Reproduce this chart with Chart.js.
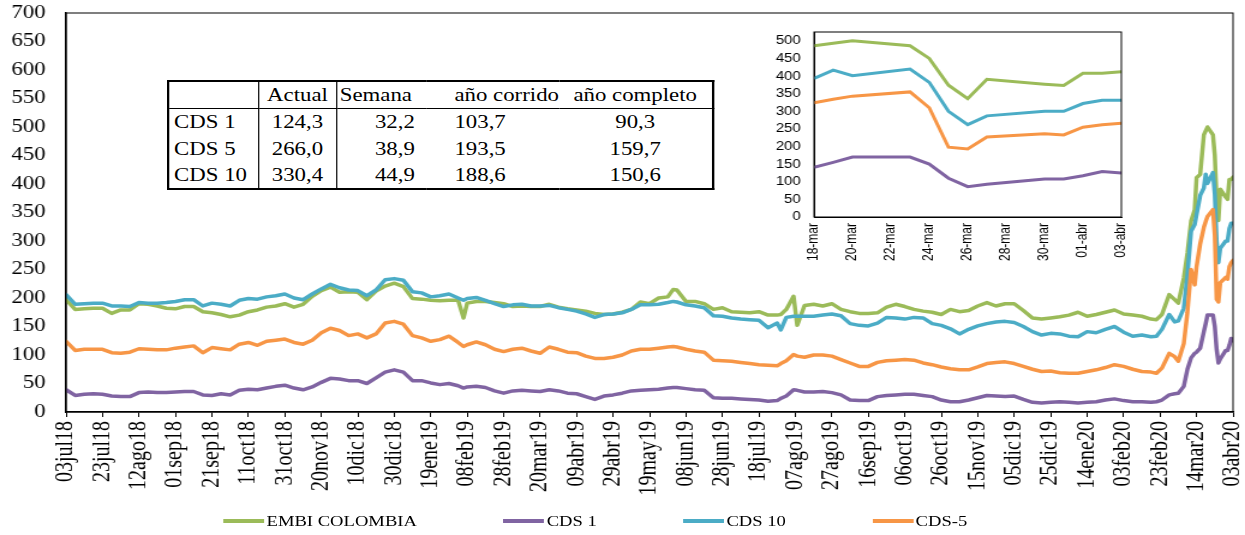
<!DOCTYPE html>
<html>
<head>
<meta charset="utf-8">
<script src="https://cdn.jsdelivr.net/npm/chart.js@4.4.1/dist/chart.umd.min.js"></script>
<style>
  html, body { margin: 0; padding: 0; background: #fff; overflow: hidden; }
  /* the whole figure is laid out narrow and widened, like the exported picture */
  #wrap { position: absolute; left: 0; top: 0; width: 1037px; height: 535px; transform: scaleX(1.2006); transform-origin: 0 0; }
  #main { position: absolute; left: 0; top: 0; }
  #inset { position: absolute; left: 633px; top: 25px; }
  #resumen { position: absolute; left: 139px; top: 80px; border-collapse: collapse; border: 2px solid #000;
             font-family: 'Liberation Serif', 'Times New Roman', serif; font-size: 19px; color: #000; background: #fff; }
  #resumen td { box-sizing: border-box; padding: 0; height: 27px; white-space: nowrap; line-height: 20px; }
  #resumen tr:first-child td { height: 27px; border-bottom: 1px solid #000; }
  #resumen td.c1 { width: 75px; text-align: left; padding-left: 4px; border-right: 1px solid #000; }
  #resumen td.c2 { width: 65.5px; text-align: center; border-right: 1px solid #000; }
  #resumen td.c3 { width: 74px; text-align: right; padding-right: 9px; }
  #resumen tr:first-child td.c3 { text-align: left; padding-left: 2px; padding-right: 0; }
  #resumen td.c4 { width: 109px; text-align: left; padding-left: 24px; }
  #resumen td.c5 { width: 128px; text-align: center; }
  #legend { position: absolute; left: 186px; top: 512px; display: flex; align-items: center;
            font-family: 'Liberation Serif', 'Times New Roman', serif; font-size: 15.5px; line-height: 18px; color: #000; }
  #legend .item { display: flex; align-items: center; margin-right: 72px; }
  #legend .swatch { display: inline-block; width: 34px; height: 4px; margin-right: 2px; }
</style>
</head>
<body>
<div id="wrap">
  <canvas id="main" width="1037" height="535"></canvas>
  <table id="resumen"></table>
  <canvas id="inset" width="308" height="245"></canvas>
  <div id="legend"></div>
</div>
<script>
// days counted from 03jul18
const days = [0,5,10,15,20,25,30,35,40,45,
  50,55,60,65,70,75,80,85,90,95,
  100,105,110,115,120,125,130,135,140,145,
  150,155,160,165,170,175,180,185,190,195,
  200,205,210,215,218,220,225,230,235,240,
  245,250,255,260,265,270,275,280,285,290,
  295,300,305,310,315,320,325,330,333,335,
  340,345,350,355,360,365,370,375,380,385,
  390,392,395,399,401,405,410,415,420,425,
  430,435,440,445,450,455,460,465,470,475,
  480,485,490,495,500,505,510,515,520,525,
  530,535,540,545,550,555,560,565,570,575,
  580,585,590,595,598,601,605,608,610,613,
  615,617,619,620,622,624,625,626,629,630,
  631,632,633,636,637,638,639,640];

const embi = [197,180,181,182,182,173,179,179,190,189,
  186,182,181,185,185,176,174,171,167,170,
  176,179,184,186,190,184,189,203,213,219,
  210,211,210,197,212,221,226,220,199,198,
  196,195,196,196,165,191,194,194,192,190,
  185,186,185,185,189,184,181,179,177,173,
  171,172,175,180,193,190,200,202,215,214,
  194,194,190,180,183,176,175,174,176,170,
  170,171,180,203,152,187,189,186,190,180,
  176,173,173,174,184,189,185,180,177,175,
  171,180,176,178,186,192,186,190,190,178,
  165,163,165,167,170,175,168,171,175,179,
  172,170,168,163,162,171,206,197,191,235,
  279,335,355,411,417,486,493,500,486,450,
  374,336,391,377,373,408,408,412];

const cds1 = [39,29,31,32,31,28,27,27,34,35,
  34,34,35,36,36,30,29,32,30,38,
  40,39,42,45,47,42,39,44,52,59,
  58,55,55,50,60,70,74,70,55,55,
  51,48,50,46,42,44,45,43,37,33,
  37,38,37,36,39,37,33,32,27,22,
  28,30,33,37,38,39,40,42,43,43,
  41,39,38,25,24,24,23,22,21,19,
  20,24,28,39,38,35,35,36,34,30,
  21,20,20,27,29,30,31,31,29,27,
  21,18,18,21,25,29,28,27,28,22,
  17,16,17,18,17,16,17,18,21,23,
  20,18,18,17,18,21,30,32,33,45,
  75,95,103,105,112,141,155,170,170,150,
  110,86,93,108,108,117,129,125];

const cds10 = [206,189,190,191,191,186,186,185,192,191,
  191,192,194,197,197,186,191,189,186,196,
  199,198,202,204,207,200,197,207,216,224,
  218,214,213,204,214,232,234,231,211,209,
  202,204,207,200,196,199,201,196,190,185,
  188,189,186,186,187,183,180,177,172,166,
  171,172,174,180,188,188,189,192,194,193,
  188,186,183,169,168,165,163,162,161,148,
  156,144,166,168,168,168,168,170,172,169,
  155,152,151,156,166,165,163,166,165,155,
  152,146,137,145,151,155,158,159,157,150,
  141,135,138,137,133,132,141,139,145,150,
  140,133,135,132,133,145,171,158,160,182,
  240,317,329,346,380,393,417,401,420,382,
  300,262,287,300,300,322,331,331];

const cds5 = [124,108,110,110,110,104,103,105,111,110,
  109,109,112,114,116,104,113,111,109,119,
  122,117,124,126,128,122,119,126,139,147,
  143,134,137,130,137,156,159,154,134,130,
  124,127,133,122,115,118,123,118,110,106,
  110,112,107,103,114,110,105,104,98,94,
  94,96,100,107,110,110,112,114,115,114,
  110,107,105,91,90,89,87,85,83,82,
  81,85,90,101,98,96,100,100,98,92,
  86,80,80,87,90,91,92,91,86,83,
  79,76,74,74,79,85,87,88,85,80,
  75,71,72,69,68,68,71,74,78,83,
  80,75,71,70,68,77,103,97,89,120,
  175,250,223,255,295,324,334,343,355,310,
  198,193,227,236,233,255,262,266];

const seriesNames = ['EMBI COLOMBIA', 'CDS 1', 'CDS 10', 'CDS-5'];
const seriesColors = ['#9BBB59', '#8064A2', '#4BACC6', '#F79646'];
const meses = ['ene','feb','mar','abr','may','jun','jul','ago','sep','oct','nov','dic'];
const insetFrom = 624;   // 18-mar-2020

const tablaColumnas = ['', 'Actual', 'Semana', 'año corrido', 'año completo'];
const tablaFilas = [
  ['CDS 1', '124,3', '32,2', '103,7', '90,3'],
  ['CDS 5', '266,0', '38,9', '193,5', '159,7'],
  ['CDS 10', '330,4', '44,9', '188,6', '150,6']
];

const START = Date.UTC(2018, 6, 3);
function fecha(d) { return new Date(START + d * 86400000); }
function dd(f) { return String(f.getUTCDate()).padStart(2, '0'); }
function etiquetaLarga(d) {
  const f = fecha(d);
  return dd(f) + meses[f.getUTCMonth()] + String(f.getUTCFullYear()).slice(2);
}
function etiquetaCorta(d) {
  const f = fecha(insetFrom + d);
  return dd(f) + '-' + meses[f.getUTCMonth()];
}

const valores = [embi, cds1, cds10, cds5];

// box around the plot area
const marco = {
  id: 'marco',
  afterDraw(chart) {
    const { ctx, chartArea: a } = chart;
    ctx.save();
    ctx.strokeStyle = '#000';
    ctx.lineWidth = 1;
    ctx.strokeRect(a.left, a.top, a.right - a.left, a.bottom - a.top);
    ctx.restore();
  }
};

// fixed axis sizes, no extra room for the end labels
function ejeX(h) {
  return s => { s.height = h; s.paddingLeft = 0; s.paddingRight = 0; };
}
function ejeY(w) {
  return s => { s.width = w; s.paddingTop = 0; s.paddingBottom = 0; };
}

const serif = 'Liberation Serif';
const sans = 'Liberation Sans';

const mainChart = new Chart(document.getElementById('main'), {
  type: 'line',
  data: {
    datasets: seriesNames.map((name, k) => ({
      label: name,
      data: days.map((d, i) => ({ x: d, y: valores[k][i] })),
      borderColor: seriesColors[k],
      backgroundColor: seriesColors[k],
      borderWidth: 3.5,
      order: 4 - k
    }))
  },
  options: {
    responsive: false,
    animation: false,
    layout: { padding: { top: 13, right: 10, bottom: 38, left: 0 } },
    elements: { point: { radius: 0 }, line: { tension: 0, borderJoinStyle: 'round', borderCapStyle: 'round' } },
    plugins: { legend: { display: false }, tooltip: { enabled: false } },
    scales: {
      x: {
        type: 'linear', min: 0, max: 640,
        ticks: {
          stepSize: 20, maxTicksLimit: 100, autoSkip: false, maxRotation: 90, minRotation: 90,
          color: '#000', padding: 4, font: { family: serif, size: 20 },
          callback: v => etiquetaLarga(v)
        },
        grid: { drawOnChartArea: false, color: '#000', tickLength: 5, lineWidth: 1 },
        border: { color: '#000', width: 1.5 },
        afterFit: ejeX(85)
      },
      y: {
        min: 0, max: 700,
        ticks: { stepSize: 50, maxTicksLimit: 100, autoSkip: false, color: '#000', padding: 17, font: { family: serif, size: 19 } },
        grid: { display: false, drawTicks: false },
        border: { color: '#000', width: 1.5 },
        afterFit: ejeY(55)
      }
    }
  },
  plugins: [marco]
});

new Chart(document.getElementById('inset'), {
  type: 'line',
  data: {
    datasets: seriesNames.map((name, k) => ({
      label: name,
      data: days.map((d, i) => ({ x: d - insetFrom, y: valores[k][i] })).filter(p => p.x >= 0),
      borderColor: seriesColors[k],
      borderWidth: 3,
      order: 4 - k
    }))
  },
  options: {
    responsive: false,
    animation: false,
    layout: { padding: { top: 7, right: 7, bottom: 5, left: 0 } },
    elements: { point: { radius: 0 }, line: { tension: 0 } },
    plugins: { legend: { display: false }, tooltip: { enabled: false } },
    scales: {
      x: {
        type: 'linear', min: 0, max: 16,
        ticks: {
          stepSize: 2, autoSkip: false, maxRotation: 90, minRotation: 90,
          color: '#000', padding: 6, font: { family: sans, size: 12 },
          callback: v => etiquetaCorta(v)
        },
        grid: { display: false, drawTicks: false },
        border: { color: '#000', width: 1 },
        afterFit: ejeX(48)
      },
      y: {
        min: 0, max: 525,
        ticks: { stepSize: 50, includeBounds: false, autoSkip: false, color: '#000', padding: 11, font: { family: sans, size: 12.5 } },
        afterBuildTicks: s => { s.ticks = s.ticks.filter(t => t.value <= 500); },
        grid: { display: false, drawTicks: false },
        border: { color: '#000', width: 1 },
        afterFit: ejeY(45)
      }
    }
  },
  plugins: [marco]
});

// summary table
const tabla = document.getElementById('resumen');
[tablaColumnas].concat(tablaFilas).forEach(fila => {
  const tr = document.createElement('tr');
  fila.forEach((txt, j) => {
    const td = document.createElement('td');
    td.className = 'c' + (j + 1);
    td.textContent = txt;
    tr.appendChild(td);
  });
  tabla.appendChild(tr);
});

// legend built from the chart's datasets
const leyenda = document.getElementById('legend');
mainChart.data.datasets.forEach(ds => {
  const item = document.createElement('span');
  item.className = 'item';
  const sw = document.createElement('span');
  sw.className = 'swatch';
  sw.style.background = ds.borderColor;
  const txt = document.createElement('span');
  txt.textContent = ds.label;
  item.appendChild(sw);
  item.appendChild(txt);
  leyenda.appendChild(item);
});
</script>
</body>
</html>
